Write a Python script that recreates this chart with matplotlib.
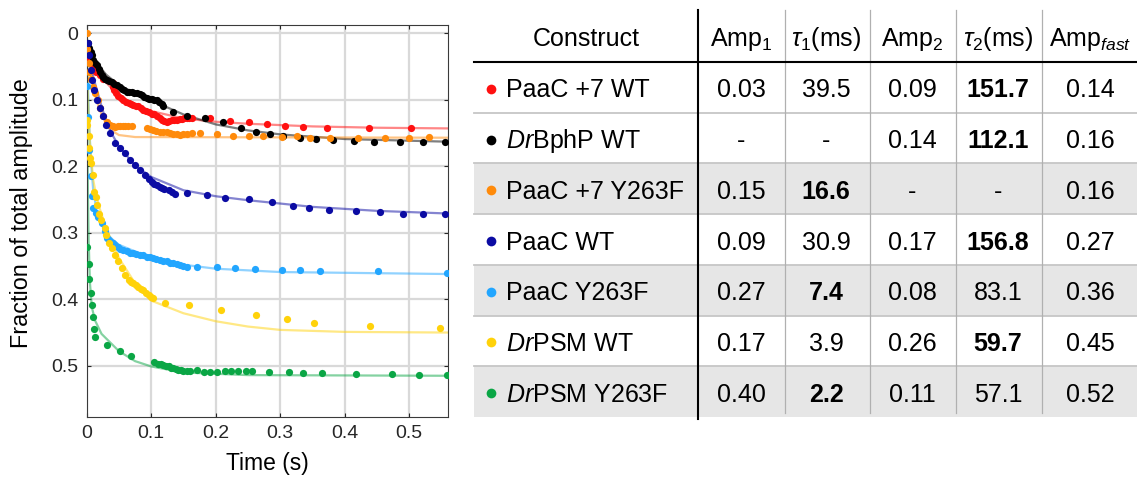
import numpy as np
import matplotlib
matplotlib.use("Agg")
import matplotlib.pyplot as plt
from matplotlib.patches import Rectangle

plt.rcParams['font.family'] = ['Liberation Sans', 'DejaVu Sans']
plt.rcParams['mathtext.fontset'] = 'custom'
plt.rcParams['mathtext.rm'] = 'Liberation Sans'
plt.rcParams['mathtext.it'] = 'Liberation Sans:italic'
plt.rcParams['mathtext.bf'] = 'Liberation Sans:bold'

# ---- table values (fit parameters) ----
constructs = ["PaaC +7 WT", "$\\mathit{Dr}$BphP WT", "PaaC +7 Y263F", "PaaC WT",
              "PaaC Y263F", "$\\mathit{Dr}$PSM WT", "$\\mathit{Dr}$PSM Y263F"]
colors = ['#ff1010', '#000000', '#ff8a0a', '#0b0ba3', '#22a6ff', '#ffd20a', '#0aa645']
amp1 = [0.03, np.nan, 0.15, 0.09, 0.27, 0.17, 0.40]
tau1 = [39.5, np.nan, 16.6, 30.9, 7.4, 3.9, 2.2]
amp2 = [0.09, 0.14, np.nan, 0.17, 0.08, 0.26, 0.11]
tau2 = [151.7, 112.1, np.nan, 156.8, 83.1, 59.7, 57.1]
amp_fast = [0.14, 0.16, 0.16, 0.27, 0.36, 0.45, 0.52]
bold_tau1 = [False, False, True, False, True, False, True]
bold_tau2 = [True, True, False, True, False, True, False]
gray_rows = [2, 4, 6]

# ---- measured points (time s, fraction) ----
red_pts = np.array([
    [0.000, 0.023], [0.001, 0.035], [0.003, 0.040], [0.006, 0.045], [0.010, 0.050],
    [0.015, 0.058], [0.020, 0.063], [0.025, 0.068], [0.040, 0.075], [0.041, 0.080],
    [0.043, 0.086], [0.046, 0.090], [0.049, 0.095], [0.053, 0.098], [0.057, 0.100],
    [0.061, 0.103], [0.065, 0.105], [0.069, 0.107], [0.072, 0.108], [0.076, 0.109],
    [0.080, 0.110], [0.084, 0.112], [0.088, 0.115], [0.092, 0.117], [0.096, 0.119],
    [0.101, 0.121], [0.105, 0.122], [0.109, 0.124], [0.113, 0.127], [0.116, 0.130],
    [0.120, 0.132], [0.124, 0.133], [0.128, 0.132], [0.132, 0.130], [0.136, 0.130],
    [0.140, 0.130], [0.144, 0.129], [0.147, 0.129], [0.151, 0.128], [0.155, 0.128],
    [0.159, 0.128], [0.163, 0.128], [0.191, 0.128], [0.222, 0.132], [0.251, 0.134],
    [0.279, 0.137], [0.307, 0.139], [0.335, 0.141], [0.372, 0.142], [0.437, 0.143],
    [0.503, 0.143]])
black_pts = np.array([
    [0.002, 0.014], [0.004, 0.022], [0.006, 0.028], [0.008, 0.033], [0.010, 0.040],
    [0.013, 0.044], [0.016, 0.048], [0.019, 0.054], [0.021, 0.058], [0.024, 0.062],
    [0.026, 0.065], [0.029, 0.068], [0.031, 0.070], [0.035, 0.072], [0.039, 0.073],
    [0.043, 0.076], [0.047, 0.078], [0.051, 0.081], [0.054, 0.083], [0.058, 0.086],
    [0.062, 0.088], [0.066, 0.089], [0.070, 0.089], [0.074, 0.090], [0.078, 0.090],
    [0.082, 0.092], [0.085, 0.093], [0.089, 0.096], [0.093, 0.098], [0.097, 0.099],
    [0.101, 0.099], [0.105, 0.100], [0.109, 0.101], [0.112, 0.103], [0.116, 0.106],
    [0.119, 0.109], [0.133, 0.119], [0.155, 0.124], [0.183, 0.127], [0.212, 0.134],
    [0.239, 0.142], [0.262, 0.148], [0.284, 0.152], [0.305, 0.155], [0.331, 0.157],
    [0.356, 0.159], [0.382, 0.160], [0.415, 0.162], [0.446, 0.163], [0.486, 0.164],
    [0.522, 0.164], [0.556, 0.163]])
orange_pts = np.array([
    [0.000, 0.000], [0.001, 0.023], [0.003, 0.045], [0.004, 0.058], [0.006, 0.068],
    [0.009, 0.080], [0.013, 0.090], [0.017, 0.100], [0.021, 0.113], [0.026, 0.125],
    [0.031, 0.133], [0.036, 0.138], [0.040, 0.140], [0.044, 0.141], [0.048, 0.140],
    [0.052, 0.140], [0.056, 0.140], [0.059, 0.140], [0.064, 0.139], [0.070, 0.139],
    [0.093, 0.142], [0.098, 0.144], [0.103, 0.146], [0.108, 0.147], [0.114, 0.148],
    [0.119, 0.148], [0.124, 0.149], [0.129, 0.150], [0.134, 0.151], [0.140, 0.152],
    [0.145, 0.153], [0.150, 0.152], [0.155, 0.151], [0.163, 0.150], [0.176, 0.150],
    [0.202, 0.151], [0.227, 0.154], [0.252, 0.155], [0.274, 0.155], [0.303, 0.156],
    [0.326, 0.155], [0.346, 0.157], [0.377, 0.157], [0.421, 0.157], [0.463, 0.157],
    [0.499, 0.157], [0.530, 0.156]])
blue_pts = np.array([
    [0.002, 0.015], [0.004, 0.033], [0.006, 0.055], [0.008, 0.070], [0.011, 0.085],
    [0.016, 0.100], [0.020, 0.113], [0.025, 0.125], [0.030, 0.138], [0.036, 0.150],
    [0.044, 0.165], [0.052, 0.173], [0.059, 0.180], [0.067, 0.190], [0.075, 0.198],
    [0.083, 0.206], [0.090, 0.213], [0.097, 0.219], [0.101, 0.223], [0.105, 0.226],
    [0.109, 0.228], [0.113, 0.231], [0.116, 0.233], [0.120, 0.234], [0.127, 0.236],
    [0.132, 0.239], [0.137, 0.241], [0.155, 0.240], [0.186, 0.243], [0.214, 0.247],
    [0.251, 0.249], [0.287, 0.253], [0.319, 0.259], [0.345, 0.262], [0.376, 0.266],
    [0.418, 0.267], [0.454, 0.268], [0.490, 0.271], [0.522, 0.271], [0.555, 0.272]])
lblue_pts = np.array([
    [0.000, 0.079], [0.002, 0.126], [0.004, 0.175], [0.006, 0.215], [0.008, 0.245],
    [0.010, 0.263], [0.014, 0.270], [0.018, 0.276], [0.023, 0.286], [0.028, 0.298],
    [0.031, 0.308], [0.034, 0.311], [0.038, 0.314], [0.041, 0.316], [0.044, 0.318],
    [0.048, 0.322], [0.052, 0.324], [0.057, 0.326], [0.062, 0.328], [0.067, 0.330],
    [0.072, 0.331], [0.077, 0.332], [0.083, 0.333], [0.088, 0.334], [0.093, 0.336],
    [0.098, 0.337], [0.103, 0.338], [0.108, 0.340], [0.114, 0.341], [0.119, 0.342],
    [0.124, 0.343], [0.129, 0.345], [0.134, 0.346], [0.140, 0.347], [0.145, 0.348],
    [0.150, 0.350], [0.156, 0.351], [0.171, 0.351], [0.202, 0.352], [0.230, 0.353],
    [0.261, 0.355], [0.302, 0.356], [0.330, 0.356], [0.362, 0.357], [0.452, 0.358],
    [0.558, 0.360]])
yellow_pts = np.array([
    [0.000, 0.130], [0.001, 0.138], [0.003, 0.154], [0.004, 0.173], [0.005, 0.188],
    [0.007, 0.195], [0.009, 0.213], [0.011, 0.238], [0.014, 0.246], [0.016, 0.258],
    [0.019, 0.271], [0.022, 0.281], [0.028, 0.293], [0.030, 0.303], [0.034, 0.316],
    [0.039, 0.323], [0.044, 0.333], [0.048, 0.343], [0.054, 0.353], [0.059, 0.363],
    [0.065, 0.371], [0.069, 0.374], [0.072, 0.376], [0.076, 0.378], [0.080, 0.381],
    [0.084, 0.384], [0.088, 0.386], [0.092, 0.390], [0.096, 0.393], [0.100, 0.396],
    [0.103, 0.398], [0.122, 0.405], [0.158, 0.409], [0.208, 0.416], [0.262, 0.424],
    [0.310, 0.429], [0.353, 0.435], [0.439, 0.440], [0.547, 0.443]])
green_pts = np.array([
    [0.001, 0.322], [0.003, 0.347], [0.004, 0.370], [0.006, 0.390], [0.008, 0.408],
    [0.010, 0.427], [0.011, 0.445], [0.013, 0.456], [0.031, 0.469], [0.052, 0.478],
    [0.068, 0.486], [0.104, 0.494], [0.110, 0.497], [0.115, 0.498], [0.119, 0.499],
    [0.123, 0.500], [0.127, 0.501], [0.131, 0.503], [0.134, 0.504], [0.138, 0.505],
    [0.142, 0.506], [0.146, 0.507], [0.150, 0.508], [0.155, 0.508], [0.160, 0.508],
    [0.171, 0.507], [0.182, 0.509], [0.191, 0.510], [0.202, 0.509], [0.214, 0.508],
    [0.224, 0.508], [0.235, 0.508], [0.247, 0.508], [0.256, 0.508], [0.283, 0.509],
    [0.314, 0.510], [0.336, 0.511], [0.364, 0.511], [0.417, 0.513], [0.473, 0.513],
    [0.515, 0.514], [0.558, 0.514]])
series_pts = [red_pts, black_pts, orange_pts, blue_pts, lblue_pts, yellow_pts, green_pts]

# ---- fitted curves (time s, fraction) ----
red_fit = np.array([
    [0.000, 0.020], [0.005, 0.030], [0.010, 0.042], [0.020, 0.060], [0.030, 0.074],
    [0.040, 0.084], [0.060, 0.099], [0.080, 0.109], [0.100, 0.117], [0.150, 0.128],
    [0.200, 0.133], [0.250, 0.136], [0.350, 0.140], [0.450, 0.142], [0.560, 0.143]])
black_fit = np.array([
    [0.000, 0.020], [0.010, 0.036], [0.020, 0.050], [0.030, 0.062], [0.050, 0.078],
    [0.075, 0.090], [0.100, 0.101], [0.150, 0.122], [0.200, 0.137], [0.250, 0.146],
    [0.300, 0.152], [0.400, 0.159], [0.560, 0.163]])
orange_fit = np.array([
    [0.000, 0.010], [0.005, 0.050], [0.010, 0.080], [0.015, 0.100], [0.020, 0.115],
    [0.030, 0.136], [0.040, 0.147], [0.050, 0.153], [0.075, 0.156], [0.560, 0.157]])
blue_fit = np.array([
    [0.000, 0.010], [0.005, 0.040], [0.010, 0.065], [0.020, 0.100], [0.030, 0.132],
    [0.040, 0.153], [0.050, 0.170], [0.075, 0.199], [0.100, 0.216], [0.150, 0.236],
    [0.200, 0.245], [0.250, 0.251], [0.350, 0.261], [0.450, 0.267], [0.560, 0.271]])
lblue_fit = np.array([
    [0.000, 0.010], [0.002, 0.080], [0.004, 0.140], [0.006, 0.180], [0.008, 0.210],
    [0.010, 0.235], [0.015, 0.265], [0.020, 0.282], [0.030, 0.300], [0.040, 0.310],
    [0.050, 0.318], [0.075, 0.328], [0.100, 0.336], [0.150, 0.348], [0.200, 0.354],
    [0.300, 0.359], [0.560, 0.362]])
yellow_fit = np.array([
    [0.000, 0.020], [0.002, 0.100], [0.005, 0.165], [0.010, 0.220], [0.015, 0.245],
    [0.020, 0.263], [0.030, 0.293], [0.050, 0.338], [0.075, 0.376], [0.100, 0.402],
    [0.150, 0.421], [0.200, 0.433], [0.250, 0.441], [0.300, 0.446], [0.400, 0.449],
    [0.560, 0.450]])
green_fit = np.array([
    [0.000, 0.010], [0.001, 0.160], [0.002, 0.250], [0.003, 0.310], [0.005, 0.375],
    [0.008, 0.412], [0.013, 0.432], [0.023, 0.452], [0.050, 0.478], [0.075, 0.493],
    [0.100, 0.501], [0.150, 0.510], [0.250, 0.514], [0.560, 0.515]])
series_fit = [red_fit, black_fit, orange_fit, blue_fit, lblue_fit, yellow_fit, green_fit]

W, H = 1137, 479
fig = plt.figure(figsize=(W / 100, H / 100), dpi=100)

# ---- left: kinetics plot ----
ax = fig.add_axes([86.7 / W, 1 - 417 / H, (448 - 86.7) / W, (417 - 25) / H])
for i in range(len(constructs)):
    f = series_fit[i]
    ax.plot(f[:, 0], f[:, 1], color=colors[i], lw=1.6, alpha=0.5, zorder=2)
for i in range(len(constructs)):
    p = series_pts[i]
    ax.plot(p[:, 0], p[:, 1], 'o', color=colors[i], ms=5.2, mew=0, zorder=3)

ax.set_xlim(0, 0.56)
ax.set_ylim(0.577, -0.0125)
ax.set_xticks([0, 0.1, 0.2, 0.3, 0.4, 0.5])
ax.set_xticklabels(['0', '0.1', '0.2', '0.3', '0.4', '0.5'])
ax.set_yticks([0, 0.1, 0.2, 0.3, 0.4, 0.5])
ax.set_yticklabels(['0', '0.1', '0.2', '0.3', '0.4', '0.5'])
ax.grid(True, color='#d9d9d9', lw=1.6)
ax.set_axisbelow(True)
for s in ax.spines.values():
    s.set_color('#3a3a3a')
    s.set_linewidth(0.8)
ax.tick_params(direction='in', length=3, top=True, right=True, labelsize=14,
               colors='#262626', pad=6)
ax.set_xlabel('Time (s)', fontsize=16.5, labelpad=7)
ax.set_ylabel('Fraction of total amplitude', fontsize=16.8)
ax.yaxis.set_label_coords(-0.148, 0.52)

# ---- right: parameter table (pixel coordinates) ----
tab = fig.add_axes([0, 0, 1, 1])
tab.set_xlim(0, W)
tab.set_ylim(H, 0)
tab.axis('off')
tab.patch.set_visible(False)

x0, x1 = 474, W
edges = np.linspace(62, 417, 8)
col_x = [741, 826, 912, 998, 1090]
col_lines = [785, 870, 956, 1042]

for r in gray_rows:
    tab.add_patch(Rectangle((x0, edges[r]), x1 - x0, edges[r + 1] - edges[r],
                            facecolor='#e6e6e6', edgecolor='none', zorder=0))
for y in edges[1:-1]:
    tab.plot([x0, x1], [y, y], color='#c6c6c6', lw=1.3, zorder=1)
for x in col_lines:
    tab.plot([x, x], [10, 413], color='#b0b0b0', lw=0.9, zorder=1)
tab.plot([698, 698], [10, 419], color='black', lw=1.5, zorder=2)
tab.plot([x0, x1], [62, 62], color='black', lw=1.5, zorder=2)

hdr_y = 46
fs = 18
tab.text(586, hdr_y, 'Construct', fontsize=fs, ha='center', va='baseline')
headers = ['Amp$_1$', '$\\tau_1$(ms)', 'Amp$_2$', '$\\tau_2$(ms)', 'Amp$_{\\mathit{fast}}$']
for x, h in zip(col_x, headers):
    tab.text(x, hdr_y, h, fontsize=fs, ha='center', va='baseline')


def fmt(v, nd):
    return '-' if np.isnan(v) else f'{v:.{nd}f}'


for i in range(len(constructs)):
    yc = (edges[i] + edges[i + 1]) / 2
    yb = yc + 10
    tab.plot(491, yc + 1.5, 'o', color=colors[i], ms=7, mew=0)
    tab.text(506, yb, constructs[i], fontsize=fs, ha='left', va='baseline')
    vals = [fmt(amp1[i], 2), fmt(tau1[i], 1), fmt(amp2[i], 2), fmt(tau2[i], 1),
            fmt(amp_fast[i], 2)]
    bolds = [False, bold_tau1[i], False, bold_tau2[i], False]
    for x, v, b in zip(col_x, vals, bolds):
        tab.text(x, yb, v, fontsize=fs, ha='center', va='baseline',
                 fontweight='bold' if b else 'normal')

fig.savefig('out.png', dpi=100)
